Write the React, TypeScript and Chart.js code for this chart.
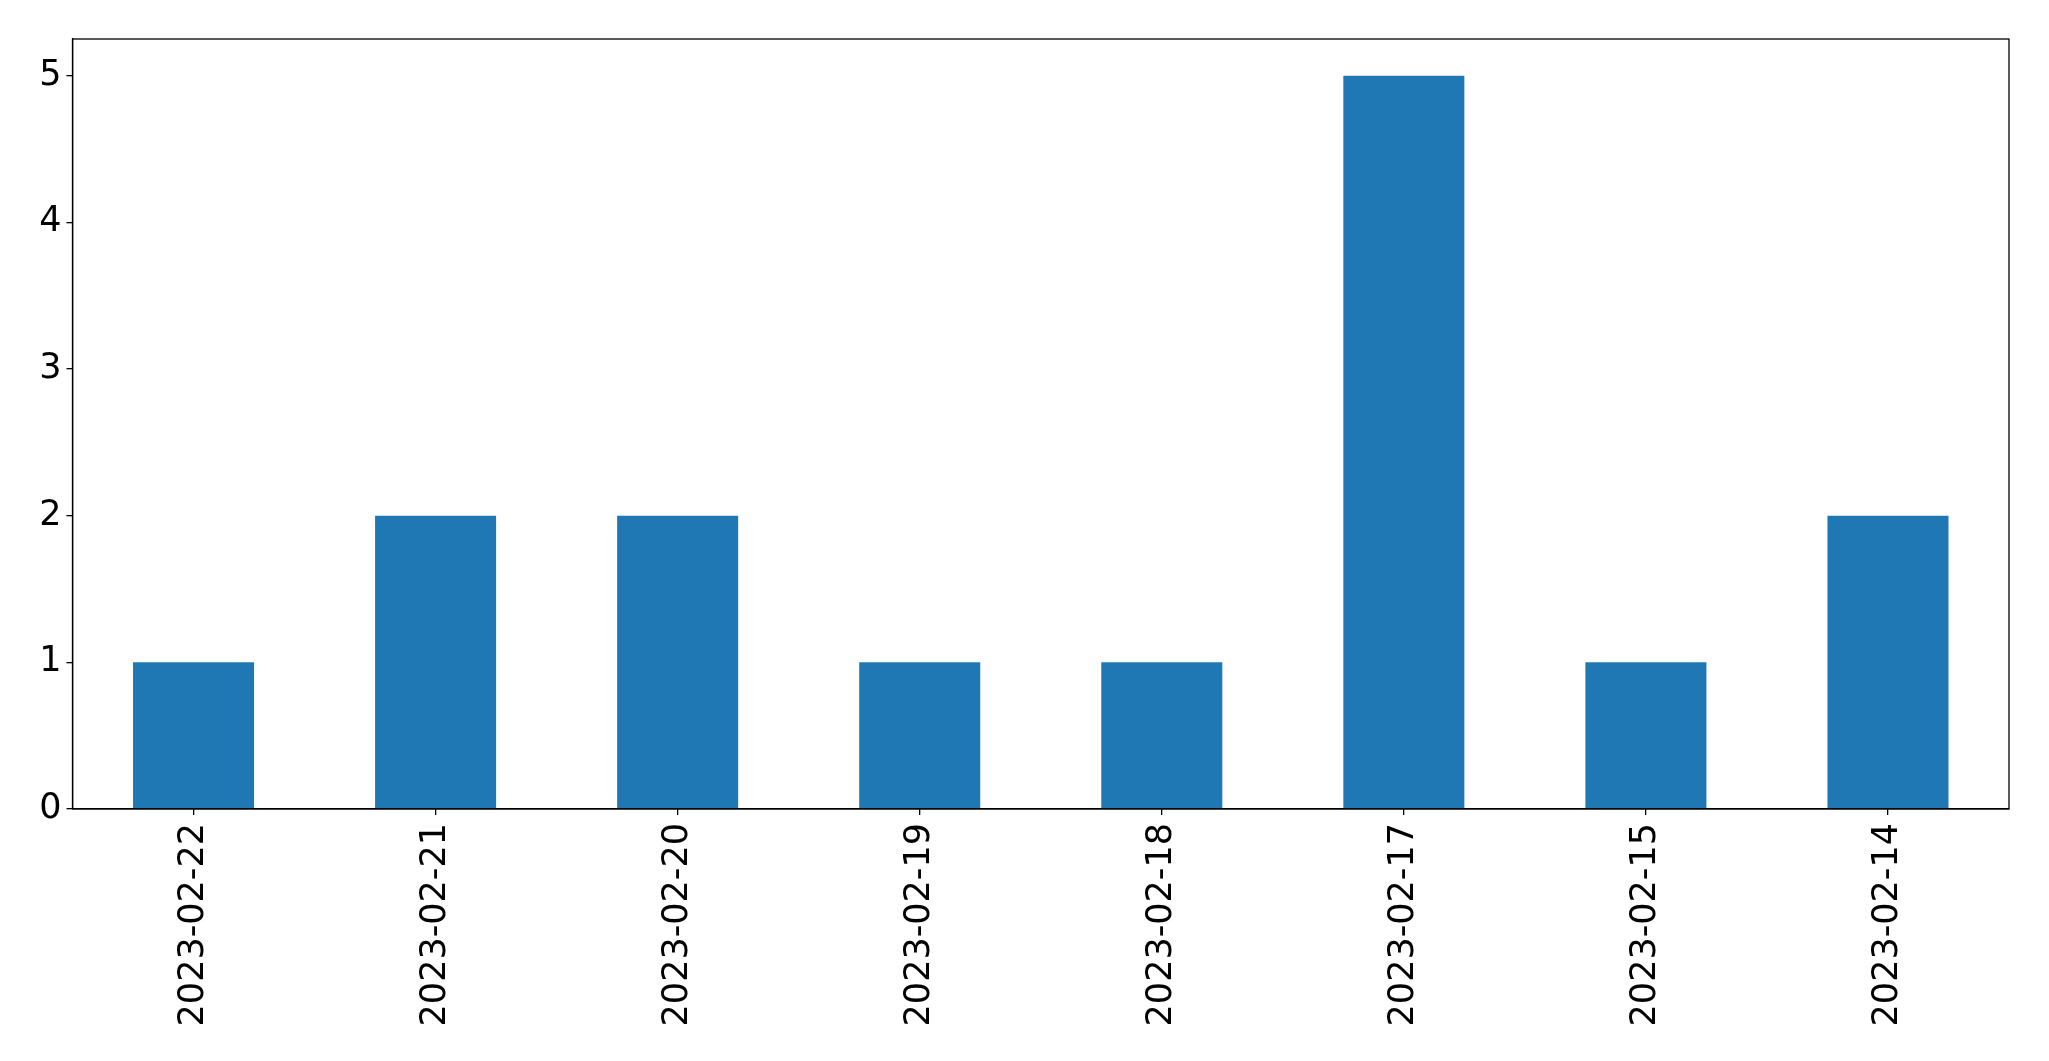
import React, { useEffect, useRef } from "react";
import { Chart, registerables } from "chart.js";

Chart.register(...registerables);

const categories = [
  "2023-02-22",
  "2023-02-21",
  "2023-02-20",
  "2023-02-19",
  "2023-02-18",
  "2023-02-17",
  "2023-02-15",
  "2023-02-14",
];
const counts = [1, 2, 2, 1, 1, 5, 1, 2];
const yTicks = [0, 1, 2, 3, 4, 5];
const yMax = 5.25;

const W = 2049;
const H = 1061;
const FONT = "'DejaVu Sans', sans-serif";
const FS = 35;

const framePlugin = {
  id: "frame",
  afterDraw(chart: any) {
    const { ctx, chartArea } = chart;
    ctx.save();
    ctx.strokeStyle = "#000";
    ctx.lineWidth = 1.3;
    ctx.strokeRect(
      chartArea.left,
      chartArea.top,
      chartArea.right - chartArea.left,
      chartArea.bottom - chartArea.top
    );
    ctx.restore();
  },
};

export default function App() {
  const ref = useRef<HTMLCanvasElement | null>(null);

  useEffect(() => {
    document.body.style.margin = "0";
    const canvas = ref.current!;
    const chart = new Chart(canvas, {
      type: "bar",
      data: {
        labels: categories,
        datasets: [
          {
            data: counts,
            backgroundColor: "#1f77b4",
            borderWidth: 0,
            barPercentage: 0.5,
            categoryPercentage: 1,
          },
        ],
      },
      options: {
        animation: false,
        responsive: false,
        maintainAspectRatio: false,
        devicePixelRatio: 1,
        layout: { padding: { top: 39, right: 40, left: 0, bottom: 0 } },
        plugins: {
          legend: { display: false },
          tooltip: { enabled: false },
        },
        scales: {
          x: {
            type: "category",
            offset: true,
            grid: {
              offset: false,
              drawOnChartArea: false,
              drawTicks: true,
              tickLength: 6,
              color: "#000",
              lineWidth: 1.3,
            },
            border: { display: true, color: "#000", width: 1.3 },
            ticks: {
              color: "#000",
              font: { family: FONT, size: FS },
              maxRotation: 90,
              minRotation: 90,
              padding: 8,
              autoSkip: false,
            },
            afterFit(scale: any) {
              scale.height = H - 809;
            },
          },
          y: {
            min: 0,
            max: yMax,
            grid: {
              drawOnChartArea: false,
              drawTicks: true,
              tickLength: 6,
              color: "#000",
              lineWidth: 1.3,
            },
            border: { display: true, color: "#000", width: 1.3 },
            ticks: {
              color: "#000",
              font: { family: FONT, size: FS },
              stepSize: 1,
              padding: 5,
            },
            afterBuildTicks(scale: any) {
              scale.ticks = yTicks.map((v) => ({ value: v }));
            },
            afterFit(scale: any) {
              scale.width = 72.5;
            },
          },
        },
      },
      plugins: [framePlugin],
    });
    return () => chart.destroy();
  }, []);

  return (
    <div style={{ position: "absolute", left: 0, top: 0, width: W, height: H, background: "#fff" }}>
      <canvas ref={ref} width={W} height={H} style={{ width: W, height: H, display: "block" }} />
    </div>
  );
}
